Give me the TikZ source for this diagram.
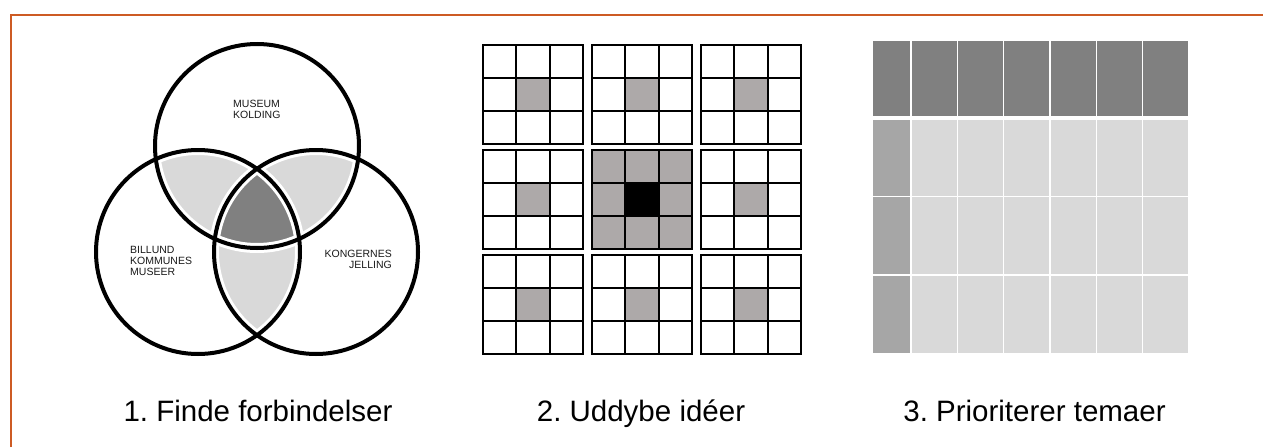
\documentclass[tikz,border=0pt]{standalone}
\usepackage{fontspec}
\setmainfont{Liberation Sans}
\frenchspacing
\definecolor{framec}{HTML}{CD5B24}
\definecolor{lightg}{HTML}{D9D9D9}
\definecolor{darkg}{HTML}{808080}
\definecolor{cellg}{HTML}{ADA9A9}
\definecolor{midg}{HTML}{A6A6A6}
\begin{document}
\begin{tikzpicture}[x=1pt,y=-1pt,
  vc/.style={circle, draw=black, line width=4pt, minimum size=204pt, inner sep=0pt},
  vlabel/.style={font=\fontsize{10.5}{11.2}\selectfont, inner sep=0pt, text=black!90},
  title/.style={font=\fontsize{29.5}{34}\selectfont, anchor=base, inner sep=0pt},
  gridline/.style={draw=black, line width=2pt},
  tcell/.style={draw=white, line width=1.5pt}]
\useasboundingbox (0,0) rectangle (1263,447);
% frame
\coordinate (fbl) at (11,447);
\coordinate (ftl) at (11,15);
\coordinate (ftr) at (1263,15);
\draw[framec, line width=2pt] (fbl) -- (ftl) -- (ftr);

% ---------- Venn ----------
\coordinate (cA) at (257,146);
\coordinate (cB) at (198,252);
\coordinate (cC) at (316,252);
\begin{scope}
  \clip (cA) circle[radius=102pt];
  \fill[lightg] (cB) circle[radius=102pt];
  \fill[lightg] (cC) circle[radius=102pt];
\end{scope}
\begin{scope}
  \clip (cB) circle[radius=102pt];
  \fill[lightg] (cC) circle[radius=102pt];
\end{scope}
\begin{scope}
  \clip (cA) circle[radius=102pt];
  \clip (cB) circle[radius=102pt];
  \fill[darkg] (cC) circle[radius=102pt];
\end{scope}
\foreach \c in {cA,cB,cC}
  \draw[white, line width=10pt] (\c) circle[radius=102pt];
\node[vc] (museum) at (cA) {};
\node[vc] (billund) at (cB) {};
\node[vc] (jelling) at (cC) {};
\node[vlabel, anchor=west, align=left] (tmuseum) at (233,109) {MUSEUM\\KOLDING};
\node[vlabel, anchor=west, align=left] (tbillund) at (130,261) {BILLUND\\KOMMUNES\\MUSEER};
\node[vlabel, anchor=east, align=right] (tjelling) at (392,259) {KONGERNES\\JELLING};

% ---------- 3x3 of 3x3 grids ----------
\foreach \i in {0,1,2}{
  \foreach \j in {0,1,2}{
    \pgfmathsetmacro\bx{483+109*\i}
    \pgfmathsetmacro\by{45+105*\j}
    \ifnum\numexpr\i*10+\j\relax=11
      \fill[cellg] (\bx,\by) rectangle ++(100,99);
      \fill[black] (\bx+33.33,\by+33) rectangle ++(33.33,33);
    \else
      \fill[cellg] (\bx+33.33,\by+33) rectangle ++(33.33,33);
    \fi
    \draw[gridline] (\bx,\by) rectangle ++(100,99);
    \draw[gridline] (\bx+33.33,\by) -- ++(0,99);
    \draw[gridline] (\bx+66.67,\by) -- ++(0,99);
    \draw[gridline] (\bx,\by+33) -- ++(100,0);
    \draw[gridline] (\bx,\by+66) -- ++(100,0);
  }
}

% ---------- table ----------
\fill[tcell, fill=darkg] (872.5,40.5) rectangle (1189,117);
\foreach \ya/\yb in {119.5/196.5, 196.5/275, 275/353.5}{
  \filldraw[tcell, fill=midg] (872.5,\ya) rectangle (911,\yb);
  \foreach \k in {0,...,5}{
    \pgfmathsetmacro\cx{911+46.33*\k}
    \filldraw[tcell, fill=lightg] (\cx,\ya) rectangle (\cx+46.33,\yb);
  }
}
\foreach \k in {0,...,5}{
  \pgfmathsetmacro\cx{911+46.33*\k}
  \draw[tcell] (\cx,40.5) -- (\cx,117);
}
\draw[tcell] (872.5,40.5) rectangle (1189,117);

% ---------- titles ----------
\node[title] (t1) at (258,421) {1. Finde forbindelser};
\node[title] (t2) at (641,421) {2. Uddybe idéer};
\node[title] (t3) at (1034.5,421) {3. Prioriterer temaer};
\end{tikzpicture}
\end{document}
